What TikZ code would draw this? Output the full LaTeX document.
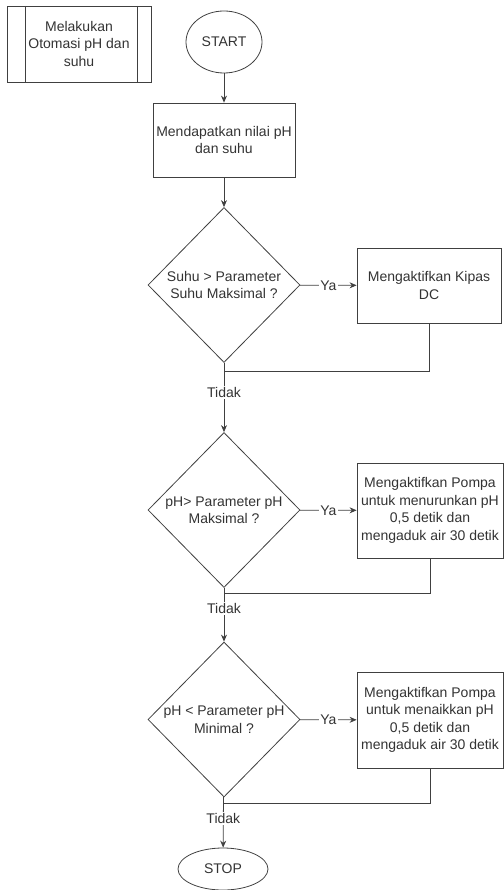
\documentclass[tikz,border=0pt]{standalone}
\usepackage{fontspec}
\setmainfont{Liberation Sans}
\usetikzlibrary{shapes.geometric,arrows.meta}
\begin{document}
\begin{tikzpicture}[x=1pt,y=-1pt,
  every node/.style={font=\fontsize{14}{17.5}\selectfont,text=black!80,align=center},
  proses/.style={draw=black!75,line width=0.8pt,rectangle,inner sep=1pt},
  keputusan/.style={draw=black!75,line width=0.8pt,diamond,inner sep=0pt,minimum width=152,minimum height=155},
  terminal/.style={draw=black!75,line width=0.8pt,ellipse,inner sep=0pt},
  alur/.style={draw=black!75,line width=0.8pt,-{Stealth[length=7pt,width=6pt]}},
  garis/.style={draw=black!75,line width=0.8pt},
  ket/.style={fill=white,inner sep=1.5pt}]
  \useasboundingbox (0,0) rectangle (503,890);
  \node[proses,minimum width=144,minimum height=76] (judul) at (79,44) {Melakukan\\Otomasi pH dan\\suhu};
  \draw[garis] (25,6) -- (25,82) (137,6) -- (137,82);
  \node[terminal,minimum width=76,minimum height=62] (start) at (224,42) {START};
  \node[proses,minimum width=142,minimum height=74] (baca) at (224,140) {Mendapatkan nilai pH\\dan suhu};
  \node[keputusan] (cek1) at (224,285) {Suhu > Parameter\\Suhu Maksimal ?};
  \node[proses,minimum width=144,minimum height=75] (kipas) at (429,285.5) {Mengaktifkan Kipas\\DC};
  \node[keputusan] (cek2) at (224,510) {pH> Parameter pH\\Maksimal ?};
  \node[proses,minimum width=146,minimum height=95] (turun) at (430,510.5) {Mengaktifkan Pompa\\untuk menurunkan pH\\0,5 detik dan\\mengaduk air 30 detik};
  \node[keputusan] (cek3) at (224,719.5) {pH < Parameter pH\\Minimal ?};
  \node[proses,minimum width=146,minimum height=96] (naik) at (430,720) {Mengaktifkan Pompa\\untuk menaikkan pH\\0,5 detik dan\\mengaduk air 30 detik};
  \node[terminal,minimum width=90,minimum height=42] (stop) at (223,869) {STOP};
  \coordinate (j1) at (224,371);
  \coordinate (j2) at (224,593);
  \coordinate (j3) at (224,803);
  \draw[alur] (start) -- (baca);
  \draw[alur] (baca) -- (cek1);
  \draw[alur] (cek1) -- node[ket] {Ya} (kipas);
  \draw[garis] (kipas.south) |- (j1);
  \draw[alur] (cek1) -- node[ket,pos=0.43] {Tidak} (cek2);
  \draw[alur] (cek2) -- node[ket] {Ya} (turun);
  \draw[garis] (turun.south) |- (j2);
  \draw[alur] (cek2) -- node[ket,pos=0.38] {Tidak} (cek3);
  \draw[alur] (cek3) -- node[ket] {Ya} (naik);
  \draw[garis] (naik.south) |- (j3);
  \draw[alur] (cek3) -- node[ket,pos=0.42] {Tidak} (stop);
\end{tikzpicture}
\end{document}
